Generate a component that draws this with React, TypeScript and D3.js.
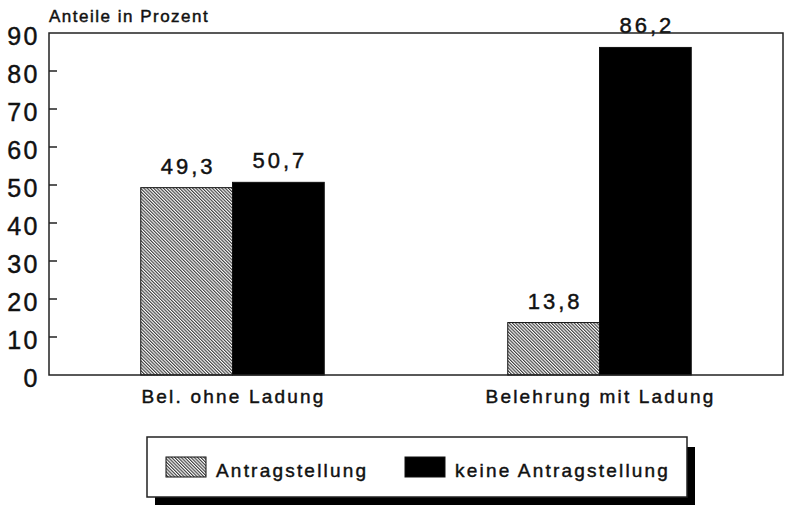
import React, { useEffect, useRef } from 'react';
import * as d3 from 'd3';

const categories = ['Bel. ohne Ladung', 'Belehrung mit Ladung'];
const seriesNames = ['Antragstellung', 'keine Antragstellung'];
const antragstellung = [49.3, 13.8];
const keineAntragstellung = [50.7, 86.2];
const yTicks = [0, 10, 20, 30, 40, 50, 60, 70, 80, 90];

const FONT = '"Liberation Sans", Arial, Helvetica, sans-serif';

const App: React.FC = () => {
  const svgRef = useRef<SVGSVGElement>(null);

  useEffect(() => {
    if (!svgRef.current) return;
    const svg = d3.select(svgRef.current);
    svg.selectAll('*').remove();

    const W = 785;
    const H = 505;
    const margin = { top: 33, right: 2, bottom: 130, left: 49 };
    const width = W - margin.left - margin.right;
    const height = H - margin.top - margin.bottom;

    svg.attr('width', W).attr('height', H);

    // hatch pattern (diagonal \\\ lines)
    const defs = svg.append('defs');
    const pat = defs.append('pattern')
      .attr('id', 'hatch')
      .attr('patternUnits', 'userSpaceOnUse')
      .attr('width', 2.3)
      .attr('height', 10)
      .attr('patternTransform', 'rotate(-45)');
    pat.append('rect').attr('width', 2.3).attr('height', 10).attr('fill', '#fff');
    pat.append('line')
      .attr('x1', 0.6).attr('y1', 0).attr('x2', 0.6).attr('y2', 10)
      .attr('stroke', '#222').attr('stroke-width', 1);

    const g = svg.append('g').attr('transform', `translate(${margin.left},${margin.top})`);

    const x0 = d3.scaleBand<string>()
      .domain(categories)
      .range([0, width])
      .paddingInner(0.5)
      .paddingOuter(0.25);

    const x1 = d3.scaleBand<string>()
      .domain(seriesNames)
      .range([0, x0.bandwidth()]);

    const y = d3.scaleLinear().domain([0, 90]).range([height, 0]);

    const rows = categories.map((c, i) => ({
      category: c,
      values: [
        { key: seriesNames[0], value: antragstellung[i] },
        { key: seriesNames[1], value: keineAntragstellung[i] },
      ],
    }));

    const fillFor = (k: string) => (k === seriesNames[0] ? 'url(#hatch)' : '#000');

    // text helper: scanned print looks a little heavier than the plain font
    const styleText = (sel: any, size: number, spacing: number) =>
      sel.style('font-family', FONT)
        .style('font-size', `${size}px`)
        .style('letter-spacing', `${spacing}px`)
        .style('fill', '#111')
        .style('stroke', '#111')
        .style('stroke-width', 0.45);

    // bars
    const groups = g.selectAll('.grp')
      .data(rows)
      .enter()
      .append('g')
      .attr('transform', d => `translate(${x0(d.category)},0)`);

    groups.selectAll('rect')
      .data(d => d.values)
      .enter()
      .append('rect')
      .attr('x', d => x1(d.key)!)
      .attr('y', d => y(d.value))
      .attr('width', x1.bandwidth())
      .attr('height', d => height - y(d.value))
      .attr('fill', d => fillFor(d.key))
      .attr('stroke', '#111')
      .attr('stroke-width', 1);

    // value labels
    styleText(
      groups.selectAll('.val')
        .data(d => d.values)
        .enter()
        .append('text')
        .attr('x', d => x1(d.key)! + x1.bandwidth() / 2 + 1.5)
        .attr('y', d => y(d.value) - 14)
        .attr('text-anchor', 'middle')
        .text(d => d.value.toFixed(1).replace('.', ',')),
      22, 3);

    // frame
    g.append('rect')
      .attr('x', 0).attr('y', 0)
      .attr('width', width).attr('height', height)
      .attr('fill', 'none')
      .attr('stroke', '#222')
      .attr('stroke-width', 1.5);

    // y axis ticks + labels
    g.selectAll('.tick')
      .data(yTicks.filter(t => t > 0 && t < 90))
      .enter()
      .append('line')
      .attr('x1', 0).attr('x2', 8)
      .attr('y1', d => y(d)).attr('y2', d => y(d))
      .attr('stroke', '#222')
      .attr('stroke-width', 1.5);

    styleText(
      g.selectAll('.ylab')
        .data(yTicks)
        .enter()
        .append('text')
        .attr('x', -9)
        .attr('y', d => y(d) + 12)
        .attr('text-anchor', 'end')
        .text(d => String(d)),
      25, 2.5);

    // category labels
    styleText(
      g.selectAll('.cat')
        .data(categories)
        .enter()
        .append('text')
        .attr('x', d => x0(d)! + x0.bandwidth() / 2 + 1)
        .attr('y', height + 28)
        .attr('text-anchor', 'middle')
        .text(d => d),
      19, 2.2);

    // axis title
    styleText(
      svg.append('text')
        .attr('x', 49)
        .attr('y', 22)
        .text('Anteile in Prozent'),
      17, 1.5);

    // legend with drop shadow
    const lg = svg.append('g').attr('transform', 'translate(147,437)');
    lg.append('rect')
      .attr('x', 8).attr('y', 10)
      .attr('width', 540).attr('height', 60)
      .attr('fill', '#000');
    lg.append('rect')
      .attr('x', 0).attr('y', 0)
      .attr('width', 540).attr('height', 60)
      .attr('fill', '#fff')
      .attr('stroke', '#222')
      .attr('stroke-width', 1.5);

    const legendX = [19, 258];
    seriesNames.forEach((name, i) => {
      lg.append('rect')
        .attr('x', legendX[i]).attr('y', 20)
        .attr('width', 40).attr('height', 20)
        .attr('fill', fillFor(name))
        .attr('stroke', '#111')
        .attr('stroke-width', 1);
      styleText(
        lg.append('text')
          .attr('x', legendX[i] + 50)
          .attr('y', 40)
          .text(name),
        19, 2.2);
    });
  }, []);

  return (
    <svg ref={svgRef} style={{ position: 'absolute', left: 0, top: 0, background: '#fff' }}></svg>
  );
};

export default App;
